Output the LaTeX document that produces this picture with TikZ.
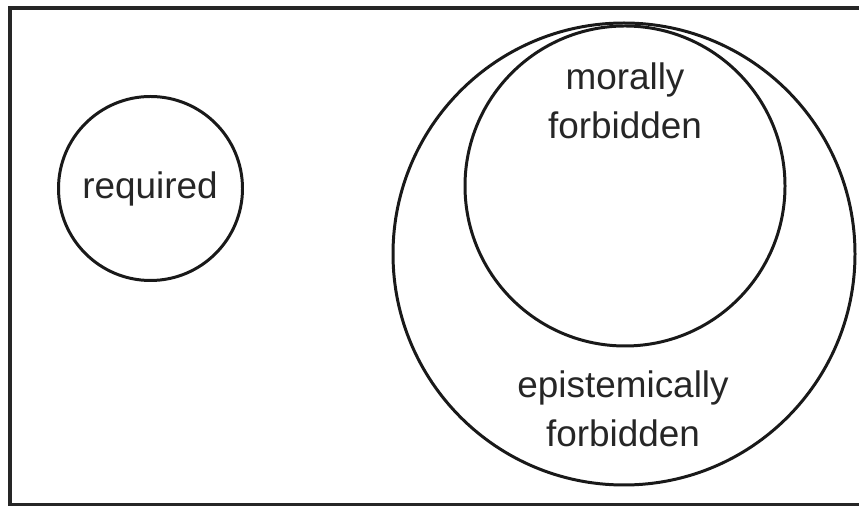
\documentclass[tikz,border=0pt]{standalone}
\usepackage{fontspec}
\setmainfont{Liberation Sans}
\usepackage{tikz}

\tikzset{
    setline/.style={line width=1.7pt, black!90},
    settext/.style={font=\fontsize{21}{28}\selectfont, text=black!85, align=center, inner sep=0pt}
}

\begin{document}
\begin{tikzpicture}
    \useasboundingbox (0,0) rectangle (17.18,10.14);

    % Frame (cut off at the right)
    \draw[line width=1.8pt, black!85] (17.4,9.98) -- (0.2,9.98) -- (0.2,0.05) -- (17.4,0.05);

    % Sets
    \draw[setline] (3.01,6.37) circle (1.84);
    \draw[setline] (12.48,5.06) circle (4.62);
    \draw[setline] (12.5,6.42) circle (3.2);

    % Labels
    \node[settext] (req) at (3.0,6.37) {required};
    \node[settext] (moral) at (12.5,8.12) {morally\\forbidden};
    \node[settext] (epist) at (12.46,1.96) {epistemically\\forbidden};
\end{tikzpicture}
\end{document}
